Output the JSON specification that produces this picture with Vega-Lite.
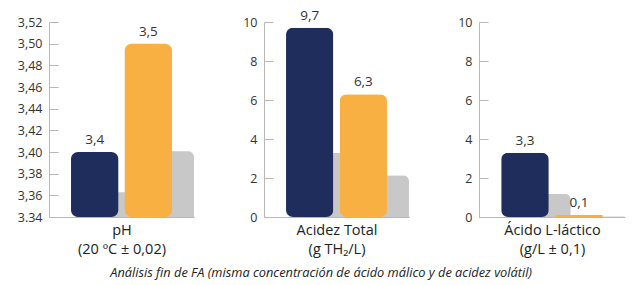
{
  "$schema": "https://vega.github.io/schema/vega-lite/v6.json",
  "padding": {"left": 17, "top": 8, "right": 5, "bottom": 2},
  "config": {
    "locale": {"number": {"decimal": ",", "thousands": ".", "grouping": [3], "currency": ["", " €"]}},
    "view": {"stroke": null},
    "font": "Open Sans",
    "axis": {"grid": false, "domainColor": "#b8b8b8", "tickColor": "#b8b8b8", "labelColor": "#333333", "labelFontSize": 12.5, "titleFontWeight": "normal", "titleColor": "#222222", "titleFontSize": 14.5, "labelOverlap": false},
    "axisY": {"tickSize": -9, "labelPadding": 16, "title": null},
    "axisX": {"labels": false, "ticks": false, "titlePadding": 6, "titleBaseline": "top", "titleLineHeight": 19},
    "scale": {"bandPaddingInner": 0.12, "bandPaddingOuter": 0.41}
  },
  "title": {"text": "Análisis fin de FA (misma concentración de ácido málico y de acidez volátil)", "orient": "bottom", "anchor": "middle", "fontStyle": "italic", "fontWeight": "normal", "fontSize": 12.8, "color": "#222222", "offset": 11},
  "datasets": {
    "d": [
      {"panel": "pH", "serie": "A", "value": 3.4},
      {"panel": "pH", "serie": "B", "value": 3.5},
      {"panel": "AT", "serie": "A", "value": 9.7},
      {"panel": "AT", "serie": "B", "value": 6.3},
      {"panel": "AL", "serie": "A", "value": 3.3},
      {"panel": "AL", "serie": "B", "value": 0.1}
    ]
  },
  "spacing": 48,
  "hconcat": [
    {
      "width": 145, "height": 195,
      "data": {"name": "d"},
      "transform": [{"filter": "datum.panel == 'pH'"}, {"calculate": "3.34 + (datum.value - 3.34) * 0.38", "as": "shadow"}],
      "encoding": {
        "x": {"field": "serie", "type": "nominal", "axis": {"title": ["pH", "(20 ºC ± 0,02)"]}}
      },
      "layer": [
        {"mark": {"type": "bar", "color": "#c8c8c8", "xOffset": 22, "cornerRadiusTopRight": 6},
         "encoding": {"y": {"field": "shadow", "type": "quantitative", "scale": {"domain": [3.34, 3.52], "zero": false, "nice": false},
                 "axis": {"values": [3.34, 3.36, 3.38, 3.4, 3.42, 3.44, 3.46, 3.48, 3.5, 3.52], "format": ".2f", "labelOverlap": false, "labelExpr": "datum.value < 3.345 ? '3.34' : datum.label"}},
                      "y2": {"datum": 3.34}}},
        {"mark": {"type": "bar", "cornerRadius": 7},
         "encoding": {
           "y": {"field": "value", "type": "quantitative", "scale": {"domain": [3.34, 3.52], "zero": false, "nice": false},
                 "axis": {"values": [3.34, 3.36, 3.38, 3.4, 3.42, 3.44, 3.46, 3.48, 3.5, 3.52], "format": ".2f", "labelOverlap": false, "labelExpr": "datum.value < 3.345 ? '3.34' : datum.label"}},
           "y2": {"datum": 3.34},
           "color": {"field": "serie", "type": "nominal", "scale": {"range": ["#1f2d5c", "#f9b043"]}, "legend": null}
         }},
        {"mark": {"type": "text", "baseline": "bottom", "dy": -5, "fontSize": 13.5, "color": "#333333"},
         "encoding": {"y": {"field": "value", "type": "quantitative",
                 "axis": {"values": [3.34, 3.36, 3.38, 3.4, 3.42, 3.44, 3.46, 3.48, 3.5, 3.52], "format": ".2f", "labelOverlap": false, "labelExpr": "datum.value < 3.345 ? '3.34' : datum.label"}},
                      "text": {"field": "value", "type": "quantitative", "format": ".1f"}}}
      ]
    },
    {
      "width": 145, "height": 195,
      "data": {"name": "d"},
      "transform": [{"filter": "datum.panel == 'AT'"}, {"calculate": "datum.value * 0.34", "as": "shadow"}],
      "encoding": {
        "x": {"field": "serie", "type": "nominal", "axis": {"title": ["Acidez Total", "(g TH₂/L)"]}}
      },
      "layer": [
        {"mark": {"type": "bar", "color": "#c8c8c8", "xOffset": 22, "cornerRadiusTopRight": 6},
         "encoding": {"y": {"field": "shadow", "type": "quantitative", "scale": {"domain": [0, 10], "nice": false},
                 "axis": {"values": [0, 2, 4, 6, 8, 10], "format": "d", "labelOverlap": false}}}},
        {"mark": {"type": "bar", "cornerRadius": 7},
         "encoding": {
           "y": {"field": "value", "type": "quantitative", "scale": {"domain": [0, 10], "nice": false},
                 "axis": {"values": [0, 2, 4, 6, 8, 10], "format": "d", "labelOverlap": false}},
           "color": {"field": "serie", "type": "nominal", "scale": {"range": ["#1f2d5c", "#f9b043"]}, "legend": null}
         }},
        {"mark": {"type": "text", "baseline": "bottom", "dy": -5, "fontSize": 13.5, "color": "#333333"},
         "encoding": {"y": {"field": "value", "type": "quantitative",
                 "axis": {"values": [0, 2, 4, 6, 8, 10], "format": "d", "labelOverlap": false}},
                      "text": {"field": "value", "type": "quantitative", "format": ".1f"}}}
      ]
    },
    {
      "width": 146, "height": 195,
      "data": {"name": "d"},
      "transform": [{"filter": "datum.panel == 'AL'"}, {"calculate": "datum.value * 0.36", "as": "shadow"}],
      "encoding": {
        "x": {"field": "serie", "type": "nominal", "axis": {"title": ["Ácido L-láctico", "(g/L ± 0,1)"]}}
      },
      "layer": [
        {"mark": {"type": "bar", "color": "#c8c8c8", "xOffset": 22, "cornerRadiusTopRight": 6},
         "encoding": {"y": {"field": "shadow", "type": "quantitative", "scale": {"domain": [0, 10], "nice": false},
                 "axis": {"values": [0, 2, 4, 6, 8, 10], "format": "d", "labelOverlap": false}}}},
        {"mark": {"type": "bar", "cornerRadius": 7},
         "encoding": {
           "y": {"field": "value", "type": "quantitative", "scale": {"domain": [0, 10], "nice": false},
                 "axis": {"values": [0, 2, 4, 6, 8, 10], "format": "d", "labelOverlap": false}},
           "color": {"field": "serie", "type": "nominal", "scale": {"range": ["#1f2d5c", "#f9b043"]}, "legend": null}
         }},
        {"mark": {"type": "text", "baseline": "bottom", "dy": -5, "fontSize": 13.5, "color": "#333333"},
         "encoding": {"y": {"field": "value", "type": "quantitative",
                 "axis": {"values": [0, 2, 4, 6, 8, 10], "format": "d", "labelOverlap": false}},
                      "text": {"field": "value", "type": "quantitative", "format": ".1f"}}}
      ]
    }
  ]
}
